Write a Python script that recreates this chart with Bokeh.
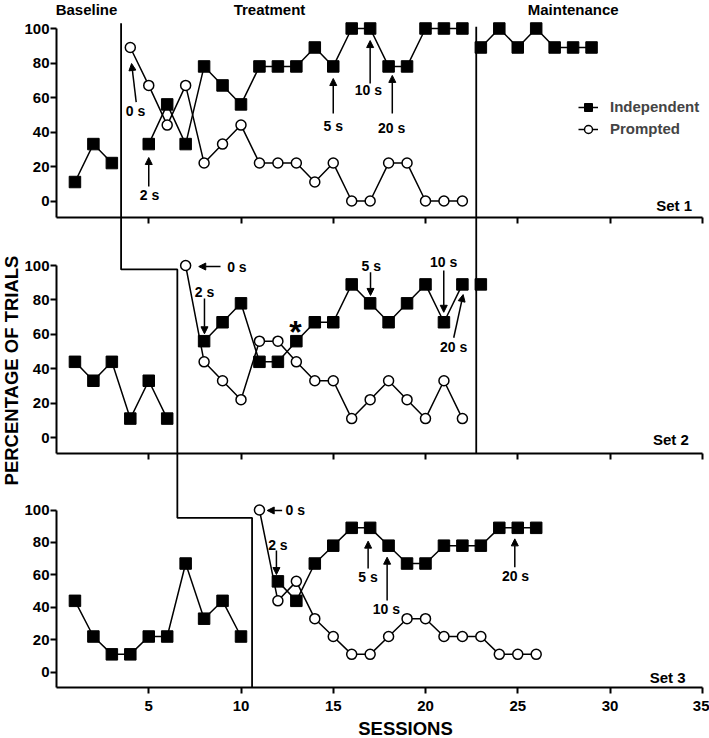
from bokeh.plotting import figure
from bokeh.models import (Range1d, LinearAxis, FixedTicker, Label, Arrow, NormalHead,
                          Legend, LegendItem)
from bokeh.embed import file_html
from bokeh.resources import INLINE
import math

# ------------------------------------------------------------------ data
set1_base_sessions = [1, 2, 3]
set1_base_independent = [11, 33, 22]
set1_prompt_sessions = [4, 5, 6, 7, 8, 9, 10, 11, 12, 13, 14, 15, 16, 17, 18, 19, 20, 21, 22]
set1_prompted = [89, 67, 44, 67, 22, 33, 44, 22, 22, 22, 11, 22, 0, 0, 22, 22, 0, 0, 0]
set1_indep_sessions = [5, 6, 7, 8, 9, 10, 11, 12, 13, 14, 15, 16, 17, 18, 19, 20, 21, 22]
set1_independent = [33, 56, 33, 78, 67, 56, 78, 78, 78, 89, 78, 100, 100, 78, 78, 100, 100, 100]
set1_maint_sessions = [23, 24, 25, 26, 27, 28, 29]
set1_maint_independent = [89, 100, 89, 100, 89, 89, 89]

set2_base_sessions = [1, 2, 3, 4, 5, 6]
set2_base_independent = [44, 33, 44, 11, 33, 11]
set2_prompt_sessions = [7, 8, 9, 10, 11, 12, 13, 14, 15, 16, 17, 18, 19, 20, 21, 22]
set2_prompted = [100, 44, 33, 22, 56, 56, 44, 33, 33, 11, 22, 33, 22, 11, 33, 11]
set2_indep_sessions = [8, 9, 10, 11, 12, 13, 14, 15, 16, 17, 18, 19, 20, 21, 22]
set2_independent = [56, 67, 78, 44, 44, 56, 67, 67, 89, 78, 67, 78, 89, 67, 89]
set2_maint_sessions = [23]
set2_maint_independent = [89]

set3_base_sessions = [1, 2, 3, 4, 5, 6, 7, 8, 9, 10]
set3_base_independent = [44, 22, 11, 11, 22, 22, 67, 33, 44, 22]
set3_prompt_sessions = [11, 12, 13, 14, 15, 16, 17, 18, 19, 20, 21, 22, 23, 24, 25, 26]
set3_prompted = [100, 44, 56, 33, 22, 11, 11, 22, 33, 33, 22, 22, 22, 11, 11, 11]
set3_indep_sessions = [12, 13, 14, 15, 16, 17, 18, 19, 20, 21, 22, 23, 24, 25, 26]
set3_independent = [56, 44, 67, 78, 89, 89, 78, 67, 67, 78, 78, 78, 89, 89, 89]

phase_labels = ["Baseline", "Treatment", "Maintenance"]
set_labels = ["Set 1", "Set 2", "Set 3"]
y_ticks = [0, 20, 40, 60, 80, 100]
x_ticks = [5, 10, 15, 20, 25, 30, 35]
series_labels = ["Independent", "Prompted"]
x_title = "SESSIONS"
y_title = "PERCENTAGE OF TRIALS"

# phase-change lines (session positions) and staircase levels
treat_start = {"s1": 3.5, "s2": 6.55, "s3": 10.6}
maint_start = 22.75

# ------------------------------------------------------------------ layout
W, H = 709, 738
X0_PX = 56.0
PX_PER_SESSION = 18.45
AX_LOW = -9.5
FONT = "Liberation Sans"
# pixel (from top) of value 0 and value 100 for each set
PX = {"s1": (200.5, 28.0), "s2": (437.0, 265.0), "s3": (671.7, 509.5)}


def sc(n):
    p0, p100 = PX[n]
    return (p0 - p100) / 100.0


def make_range(n):
    p0, _ = PX[n]
    s = sc(n)
    return Range1d(start=-(H - p0) / s, end=p0 / s)


def px_of(v, n):
    return PX[n][0] - v * sc(n)


def val_at(px, n):
    return (PX[n][0] - px) / sc(n)


def conv(v, a, b):
    return val_at(px_of(v, a), b)


def xdat(px):
    return (px - X0_PX) / PX_PER_SESSION


x_range = Range1d(start=xdat(0), end=xdat(W))

p = figure(width=W, height=H, x_range=x_range, y_range=make_range("s3"),
           x_axis_location=None, y_axis_location=None, toolbar_location=None,
           output_backend="svg", min_border=0, outline_line_color=None, title=None,
           background_fill_color="white", border_fill_color="white")
p.extra_y_ranges = {"s1": make_range("s1"), "s2": make_range("s2"), "s3": make_range("s3")}
p.grid.visible = False

# ------------------------------------------------------------------ axes
for name in ["s1", "s2", "s3"]:
    yax = LinearAxis(y_range_name=name, fixed_location=0, bounds=(AX_LOW, 100),
                     ticker=FixedTicker(ticks=y_ticks, minor_ticks=[]))
    xax = LinearAxis(y_range_name=name, fixed_location=AX_LOW, bounds=(0, 35),
                     ticker=FixedTicker(ticks=x_ticks, minor_ticks=[]))
    for ax in (yax, xax):
        ax.axis_line_width = 2
        ax.axis_line_color = "black"
        ax.major_tick_line_width = 2
        ax.major_tick_line_color = "black"
        ax.major_tick_in = 0
        ax.major_tick_out = 6
        ax.minor_tick_in = 0
        ax.minor_tick_out = 0
        ax.major_label_text_font = FONT
        ax.major_label_text_font_style = "bold"
        ax.major_label_text_font_size = "15px"
        ax.major_label_text_color = "black"
    yax.major_label_standoff = 1
    xax.major_label_standoff = 7
    if name != "s3":
        xax.major_label_text_color = None
    p.add_layout(yax, "left")
    p.add_layout(xax, "below")

# ------------------------------------------------------------------ phase lines
stair_x = [treat_start["s1"], treat_start["s1"], treat_start["s2"], treat_start["s2"],
           treat_start["s3"], treat_start["s3"]]
stair_y = [conv(103, "s1", "s3"), conv(97.7, "s2", "s3"), conv(97.7, "s2", "s3"),
           95.2, 95.2, AX_LOW]
p.line(stair_x, stair_y, y_range_name="s3", line_color="black", line_width=1.8)
p.line([maint_start, maint_start], [conv(101, "s1", "s2"), AX_LOW], y_range_name="s2",
       line_color="black", line_width=1.8)

# ------------------------------------------------------------------ data series
squares = [
    ("s1", set1_base_sessions, set1_base_independent),
    ("s1", set1_indep_sessions, set1_independent),
    ("s1", set1_maint_sessions, set1_maint_independent),
    ("s2", set2_base_sessions, set2_base_independent),
    ("s2", set2_indep_sessions, set2_independent),
    ("s2", set2_maint_sessions, set2_maint_independent),
    ("s3", set3_base_sessions, set3_base_independent),
    ("s3", set3_indep_sessions, set3_independent),
]
circles = [
    ("s1", set1_prompt_sessions, set1_prompted),
    ("s2", set2_prompt_sessions, set2_prompted),
    ("s3", set3_prompt_sessions, set3_prompted),
]
line_r = {}
for i, (n, xs, ys) in enumerate(squares + circles):
    line_r[i] = p.line(xs, ys, y_range_name=n, line_color="black", line_width=1.5)
mark_r = {}
for i, (n, xs, ys) in enumerate(circles):
    mark_r[("c", i)] = p.scatter(xs, ys, y_range_name=n, marker="circle", size=10,
                                 fill_color="white", line_color="black", line_width=1.5)
for i, (n, xs, ys) in enumerate(squares):
    mark_r[("s", i)] = p.scatter(xs, ys, y_range_name=n, marker="square", size=11.5,
                                 fill_color="black", line_color="black", line_width=1)

# ------------------------------------------------------------------ legend
legend = Legend(items=[
    LegendItem(label=series_labels[0], renderers=[line_r[1], mark_r[("s", 1)]]),
    LegendItem(label=series_labels[1], renderers=[line_r[len(squares)], mark_r[("c", 0)]]),
], location=(578, H - 138.7), padding=0, margin=0, spacing=2, glyph_width=20,
    glyph_height=20, label_standoff=12, border_line_color=None, background_fill_alpha=0,
    label_text_font=FONT, label_text_font_style="bold", label_text_font_size="15px")
p.add_layout(legend)

# ------------------------------------------------------------------ texts


def add_text(text, x, y, rname, size="14px", align="center", angle=0.0):
    p.add_layout(Label(x=x, y=y, y_range_name=rname, text=text, text_font=FONT,
                       text_font_style="bold", text_font_size=size, text_color="black",
                       text_align=align, text_baseline="middle", angle=angle))


# phase titles
for lab, xc in zip(phase_labels, [xdat(86), xdat(269), xdat(572.7)]):
    add_text(lab, xc, val_at(8.8, "s1"), "s1", size="15px")

# set labels (right edge, vertical centre in pixels)
for lab, n, rx, cy in zip(set_labels, ["s1", "s2", "s3"], [691.5, 688.3, 685.0],
                          [205.3, 439.0, 677.2]):
    add_text(lab, xdat(rx), val_at(cy, n), n, size="15px", align="right")

# axis titles
add_text(x_title, xdat(405), val_at(728.3, "s3"), "s3", size="18.5px")
add_text(y_title, xdat(10.5), val_at(370, "s2"), "s2", size="18.5px", angle=math.pi / 2)

# delay annotations: (set, text, text x, text y, align, arrow x0, y0, x1, y1)
annotations = [
    ("s1", "0 s", 4.28, 51.9, "center", 4.32, 57.3, 4.07, 79.7),
    ("s1", "2 s", 5.04, 3.2, "center", 5.0, 8.4, 5.0, 25.2),
    ("s1", "5 s", 15.0, 43.4, "center", 15.0, 50.7, 15.0, 71.0),
    ("s1", "10 s", 16.9, 64.1, "center", 17.0, 68.1, 17.0, 93.0),
    ("s1", "20 s", 18.16, 42.1, "center", 18.2, 50.7, 18.2, 72.8),
    ("s2", "0 s", 9.25, 99.4, "left", 8.89, 99.4, 7.71, 99.4),
    ("s2", "2 s", 8.02, 84.5, "center", 8.02, 80.8, 8.02, 60.3),
    ("s2", "5 s", 17.06, 100.0, "center", 17.02, 96.1, 17.02, 82.6),
    ("s2", "10 s", 20.98, 101.9, "center", 20.99, 97.1, 20.99, 72.8),
    ("s2", "20 s", 21.52, 52.5, "center", 21.53, 58.0, 22.04, 83.1),
    ("s3", "0 s", 12.41, 99.7, "left", 12.23, 99.7, 11.42, 99.7),
    ("s3", "2 s", 12.0, 78.5, "center", 11.92, 75.0, 11.92, 60.2),
    ("s3", "5 s", 16.88, 58.6, "center", 16.89, 63.9, 16.89, 80.8),
    ("s3", "10 s", 17.88, 39.1, "center", 17.92, 44.2, 17.92, 70.9),
    ("s3", "20 s", 24.88, 59.6, "center", 24.84, 64.7, 24.84, 82.2),
]
for n, t, tx, ty, al, x0, y0, x1, y1 in annotations:
    add_text(t, tx, ty, n, size="14px", align=al)
    p.add_layout(Arrow(x_start=x0, y_start=y0, x_end=x1, y_end=y1, y_range_name=n,
                       line_color="black", line_width=1.5,
                       end=NormalHead(size=7, fill_color="black", line_color="black",
                                      line_width=1)))

# asterisk marking set 2
add_text("*", xdat(295), val_at(331, "s2"), "s2", size="32px")

open("out.html", "w").write(file_html(p, INLINE))
